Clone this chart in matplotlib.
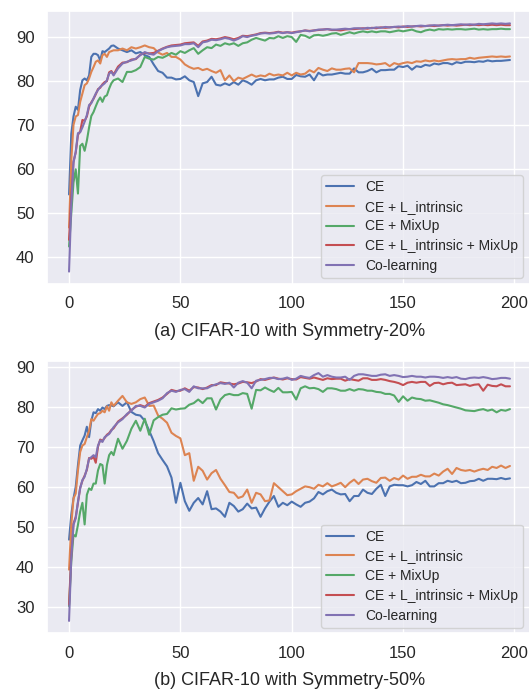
import matplotlib
matplotlib.use("Agg")
import matplotlib.pyplot as plt
import seaborn as sns

epochs = list(range(0, 21)) + list(range(22, 199, 2))

labels = ["CE", "CE + L_intrinsic", "CE + MixUp", "CE + L_intrinsic + MixUp", "Co-learning"]
colors = ["#4C72B0", "#DD8452", "#55A868", "#C44E52", "#8172B3"]

# (a) Symmetry-20%
ce_a = [54.3, 68.0, 72.0, 74.2, 73.5, 78.0, 80.2, 80.6, 80.2, 81.3, 85.5, 86.2, 86.2, 85.9, 84.7, 86.8, 86.6, 87.0, 87.4, 88.0, 88.1,
        87.4, 87.0, 86.6, 87.0, 86.3, 86.6, 85.9, 85.5,
        83.8, 82.3, 81.9, 80.8, 80.8, 80.4, 80.5, 81.1, 80.2, 79.8, 76.6, 79.5, 79.8, 81.0, 79.2, 79.0, 79.5, 79.1, 79.8, 79.2, 80.2,
        79.8, 79.2, 80.2, 80.5, 80.2, 80.4, 80.4, 80.8, 81.0, 80.5, 80.5, 81.4, 81.1, 81.0, 81.5, 80.2, 81.9, 81.3, 81.5, 81.5, 81.7,
        81.9, 81.7, 81.7, 82.9, 82.0, 82.0, 82.3, 82.8, 82.0, 82.5, 82.5, 82.6, 82.6, 83.4, 83.2, 83.5, 82.6, 83.4, 83.2, 83.7,
        83.5, 84.0, 83.8, 84.1, 84.1, 83.8, 84.3, 84.1, 84.4, 84.4, 84.3, 84.5, 84.4, 84.7, 84.5, 84.6, 84.6, 84.7, 84.8]
li_a = [46.8, 62.0, 70.1, 72.0, 72.3, 75.3, 77.2, 79.1, 79.5, 80.6, 82.1, 83.2, 84.4, 84.7, 84.0, 85.9, 86.2, 85.5, 86.6, 86.8, 87.0,
        87.0, 87.4, 87.0, 87.7, 87.4, 87.7, 88.1, 87.7,
        87.5, 86.5, 86.0, 86.4, 85.5, 85.5, 84.9, 83.8, 83.2, 82.8, 83.0, 82.5, 82.8, 82.3, 81.9, 82.5, 80.2, 81.3, 80.0, 80.8, 80.5,
        81.0, 81.5, 81.0, 81.3, 81.1, 81.7, 81.3, 81.5, 81.3, 81.9, 81.3, 81.9, 81.5, 81.7, 82.5, 82.0, 83.0, 82.6, 82.3, 82.9, 82.6,
        82.6, 82.8, 82.9, 82.0, 84.1, 84.1, 84.1, 84.0, 83.8, 83.9, 84.1, 83.4, 84.1, 83.8, 84.1, 84.3, 84.1, 84.5, 84.4, 84.7,
        84.5, 84.7, 84.5, 84.7, 84.9, 85.0, 84.9, 85.0, 85.0, 85.3, 85.1, 85.3, 85.4, 85.5, 85.6, 85.5, 85.6, 85.5, 85.6]
mx_a = [42.5, 50.0, 57.0, 60.0, 54.5, 65.3, 65.8, 64.2, 66.5, 69.5, 72.1, 73.0, 74.3, 75.5, 76.3, 75.3, 76.5, 76.8, 78.3, 79.5, 80.2,
        80.6, 79.8, 82.1, 82.1, 82.5, 83.2, 85.5, 85.1,
        84.9, 85.5, 85.3, 85.8, 86.4, 86.0, 86.8, 86.4, 87.0, 87.5, 86.2, 87.0, 87.7, 87.5, 88.3, 88.0, 88.6, 88.3, 88.6, 88.0, 88.6,
        88.8, 89.4, 89.8, 89.5, 89.2, 89.8, 89.7, 90.2, 89.8, 90.2, 90.0, 88.9, 90.5, 90.3, 89.8, 90.4, 90.5, 90.3, 90.5, 90.8, 90.9,
        90.5, 90.8, 91.1, 90.8, 91.1, 91.3, 91.1, 91.3, 91.1, 91.3, 91.3, 91.1, 91.3, 91.5, 91.3, 91.5, 91.7, 91.3, 91.1, 91.5,
        91.7, 91.5, 91.8, 91.7, 91.8, 91.7, 91.8, 91.8, 91.7, 91.8, 91.9, 91.7, 91.8, 91.7, 91.8, 91.8, 91.9, 91.8, 91.8]
both_a = [44.0, 54.0, 61.8, 63.8, 67.8, 68.6, 71.2, 71.0, 72.0, 74.2, 75.2, 76.0, 77.0, 78.2, 78.5, 79.3, 79.8, 80.0, 82.0, 82.3, 81.5,
          83.3, 84.2, 84.3, 84.9, 85.0, 86.0, 86.4, 86.3,
          86.4, 86.9, 87.4, 87.8, 88.1, 88.2, 88.3, 88.6, 88.7, 88.8, 88.0, 89.0, 89.2, 89.6, 89.5, 89.7, 90.0, 89.8, 89.5, 89.8, 90.3,
          90.2, 90.4, 90.6, 90.9, 91.0, 90.9, 91.0, 91.2, 91.0, 91.1, 91.0, 91.2, 91.3, 91.5, 91.4, 91.5, 91.6, 91.7, 91.8, 91.6, 91.6,
          91.5, 91.7, 91.8, 91.8, 91.9, 92.0, 91.9, 92.1, 92.0, 92.2, 92.1, 92.2, 92.3, 92.2, 92.4, 92.3, 92.4, 92.5, 92.4, 92.5,
          92.6, 92.5, 92.6, 92.7, 92.6, 92.7, 92.6, 92.7, 92.8, 92.7, 92.8, 92.7, 92.8, 92.7, 92.8, 92.7, 92.8, 92.7, 92.7]
co_a = [36.8, 52.0, 61.5, 64.0, 68.2, 68.4, 69.5, 70.8, 72.3, 74.6, 75.0, 76.1, 77.2, 78.0, 78.7, 79.1, 79.5, 80.2, 81.7, 82.1, 81.3,
        82.9, 84.0, 84.4, 84.7, 85.1, 85.9, 86.6, 86.2,
        86.0, 86.8, 87.3, 87.7, 87.9, 88.0, 88.1, 88.4, 88.4, 88.6, 87.7, 88.8, 89.0, 89.4, 89.3, 89.5, 89.8, 89.6, 89.2, 89.6, 90.2,
        90.0, 90.3, 90.5, 90.8, 90.9, 90.8, 90.9, 91.1, 90.9, 91.1, 90.9, 91.1, 91.3, 91.5, 91.3, 91.5, 91.7, 91.7, 91.8, 91.7, 91.7,
        91.8, 91.9, 91.8, 92.0, 92.0, 91.9, 92.1, 92.0, 92.2, 92.1, 92.3, 92.2, 92.3, 92.4, 92.3, 92.5, 92.4, 92.5, 92.6, 92.5,
        92.6, 92.7, 92.6, 92.7, 92.8, 92.7, 92.8, 92.9, 92.8, 92.9, 92.8, 93.0, 92.9, 93.0, 93.1, 93.0, 93.1, 93.0, 93.1]

# (b) Symmetry-50%
ce_b = [46.8, 53.0, 57.1, 60.0, 65.4, 70.3, 71.6, 72.8, 75.0, 72.4, 76.5, 78.6, 78.4, 79.4, 79.0, 79.8, 79.4, 80.2, 80.4, 80.3, 80.1,
        81.1, 80.2, 81.1, 78.7, 78.0, 77.8, 76.5, 74.0,
        71.4, 68.4, 66.7, 65.1, 62.3, 56.0, 61.0, 56.4, 54.0, 56.0, 57.2, 55.6, 58.9, 54.4, 54.6, 53.8, 52.5, 56.0, 55.2, 53.8, 54.4,
        55.8, 54.6, 54.8, 52.5, 54.6, 56.3, 57.7, 55.0, 56.0, 55.4, 56.3, 55.6, 55.0, 56.0, 56.3, 57.1, 58.7, 58.1, 58.9, 59.3, 58.5,
        58.1, 58.2, 56.4, 57.7, 57.7, 59.3, 58.5, 58.2, 59.5, 60.5, 57.7, 60.1, 60.5, 60.4, 60.4, 60.1, 60.4, 61.2, 60.7, 61.5,
        60.1, 60.1, 60.9, 60.9, 61.5, 61.2, 61.5, 60.9, 61.0, 61.4, 61.5, 62.0, 61.5, 62.0, 62.0, 61.9, 62.2, 61.9, 62.1]
li_b = [39.3, 50.5, 57.1, 58.3, 64.1, 68.7, 70.3, 70.7, 72.4, 74.0, 76.9, 76.5, 77.4, 78.2, 78.4, 79.0, 78.6, 80.1, 79.0, 81.1, 80.2,
        81.5, 82.7, 81.1, 80.7, 81.1, 81.9, 82.3, 80.2,
        80.3, 77.8, 77.0, 76.0, 73.5, 72.7, 72.1, 67.9, 68.4, 61.5, 65.0, 64.0, 61.8, 63.4, 64.2, 62.0, 60.4, 58.7, 58.5, 57.2, 57.6,
        59.3, 56.0, 58.5, 58.1, 56.4, 56.6, 60.9, 59.9, 58.9, 57.9, 58.1, 58.9, 59.5, 60.1, 59.9, 59.5, 60.5, 60.1, 60.9, 60.1, 60.5,
        61.0, 59.9, 61.0, 61.8, 60.7, 61.8, 62.0, 61.4, 61.0, 62.2, 62.3, 61.5, 62.2, 61.8, 62.8, 62.0, 62.5, 62.5, 63.0, 62.6,
        62.6, 63.3, 62.8, 63.8, 64.5, 63.2, 64.7, 64.2, 64.0, 64.2, 63.8, 64.2, 64.5, 64.2, 65.0, 64.7, 65.3, 64.7, 65.2]
mx_b = [30.2, 41.4, 48.0, 47.6, 50.5, 53.8, 56.0, 50.6, 58.0, 59.6, 59.2, 60.8, 60.8, 64.1, 65.7, 65.4, 60.8, 65.4, 67.9, 68.7, 67.9,
        72.0, 69.5, 71.5, 74.5, 76.5, 74.0, 77.0, 73.0,
        76.6, 77.4, 78.0, 78.2, 79.6, 79.3, 79.5, 79.6, 80.5, 80.9, 81.8, 80.9, 82.1, 82.1, 79.3, 81.8, 82.9, 83.2, 82.9, 82.9, 83.4,
        83.2, 79.5, 84.2, 84.1, 84.8, 84.2, 83.7, 84.7, 83.6, 83.6, 83.7, 81.8, 84.6, 85.1, 84.6, 84.7, 84.4, 83.7, 84.6, 84.6, 84.4,
        84.0, 84.0, 84.4, 84.0, 84.4, 84.3, 84.0, 84.0, 83.7, 83.6, 83.2, 83.2, 82.8, 81.2, 82.6, 81.5, 82.3, 82.0, 81.9, 81.5,
        81.6, 81.3, 81.0, 80.6, 80.4, 80.1, 79.8, 79.5, 79.1, 79.0, 78.9, 79.2, 79.4, 79.0, 79.3, 78.6, 79.2, 79.0, 79.4]
both_b = [30.6, 43.0, 50.8, 52.5, 56.0, 59.8, 61.5, 62.8, 64.2, 67.2, 67.0, 67.5, 66.0, 70.0, 71.8, 71.5, 72.2, 73.0, 73.4, 74.2, 74.6,
          76.3, 77.1, 78.0, 79.2, 80.0, 80.4, 80.0, 80.9,
          81.3, 81.7, 82.3, 83.2, 84.2, 83.9, 84.0, 84.6, 84.0, 84.9, 84.8, 84.4, 84.8, 85.4, 85.4, 86.1, 85.9, 85.8, 85.6, 85.8, 86.2,
          86.1, 85.9, 86.3, 86.9, 86.7, 87.0, 87.3, 87.0, 86.8, 87.1, 86.9, 86.8, 87.4, 87.2, 87.0, 87.3, 87.0, 86.7, 87.1, 86.9, 87.0,
          87.0, 86.5, 86.9, 86.7, 86.5, 87.1, 87.1, 86.7, 86.7, 86.9, 86.7, 86.4, 86.2, 85.9, 85.4, 86.0, 86.2, 86.0, 86.2, 86.2,
          85.2, 85.9, 86.0, 85.6, 85.9, 86.0, 85.4, 85.5, 85.6, 85.2, 85.5, 85.6, 84.0, 85.5, 85.2, 85.1, 85.6, 85.1, 85.1]
co_b = [26.5, 42.2, 50.5, 52.1, 56.3, 59.6, 61.7, 62.5, 64.5, 67.0, 67.4, 67.9, 67.4, 70.3, 71.6, 71.2, 72.4, 72.8, 73.2, 74.0, 74.9,
        76.1, 76.9, 78.2, 79.0, 80.2, 80.2, 79.8, 80.7,
        81.1, 81.5, 82.1, 83.4, 84.0, 83.7, 84.2, 84.4, 83.7, 85.1, 84.6, 84.6, 84.6, 85.2, 85.6, 85.9, 85.7, 86.0, 84.8, 86.0, 86.4,
        86.0, 84.6, 86.5, 86.7, 86.9, 87.2, 87.2, 86.9, 87.0, 87.3, 86.7, 87.0, 87.7, 87.4, 87.2, 87.9, 88.4, 87.5, 87.9, 87.5, 87.3,
        87.3, 87.5, 86.7, 87.7, 88.1, 88.1, 87.9, 87.7, 87.7, 88.0, 88.1, 87.7, 87.9, 87.7, 87.4, 87.5, 87.7, 87.5, 87.5, 87.3,
        87.5, 87.5, 87.4, 87.2, 87.4, 87.2, 87.4, 87.0, 86.9, 87.2, 87.3, 87.2, 87.4, 87.2, 86.9, 87.0, 87.2, 87.2, 87.0]

series_a = [ce_a, li_a, mx_a, both_a, co_a]
series_b = [ce_b, li_b, mx_b, both_b, co_b]
xticks = [0, 50, 100, 150, 200]
yticks_a = [40, 50, 60, 70, 80, 90]
yticks_b = [30, 40, 50, 60, 70, 80, 90]
xlabel_a = "(a) CIFAR-10 with Symmetry-20%"
xlabel_b = "(b) CIFAR-10 with Symmetry-50%"

sns.set_theme(style="darkgrid")
plt.rcParams["font.family"] = ["Liberation Sans", "DejaVu Sans"]

fig = plt.figure(figsize=(5.29, 6.89), dpi=100)
W, H = 529.0, 689.0
ax1 = fig.add_axes([47 / W, 1 - 284 / H, 485 / W, 273 / H])
ax2 = fig.add_axes([47 / W, 1 - 633.3 / H, 485 / W, 272.6 / H])

for ax, series, yt, xl, legbottom in [(ax1, series_a, yticks_a, xlabel_a, 278),
                                      (ax2, series_b, yticks_b, xlabel_b, 627.7)]:
    for vals, lab, col in zip(series, labels, colors):
        ax.plot(epochs, vals, color=col, lw=1.5, label=lab)
    ax.set_xticks(xticks)
    ax.set_yticks(yt)
    ax.tick_params(axis="both", length=0, pad=9, labelsize=12, colors="#262626")
    ax.set_xlabel(xl, fontsize=13, labelpad=8, color="#262626")
    ax.legend(loc="lower right", bbox_to_anchor=(523 / W, 1 - legbottom / H),
              bbox_transform=fig.transFigure, borderaxespad=0, fontsize=10,
              labelspacing=0.42, borderpad=0.35)

fig.savefig("out.png", dpi=100)
